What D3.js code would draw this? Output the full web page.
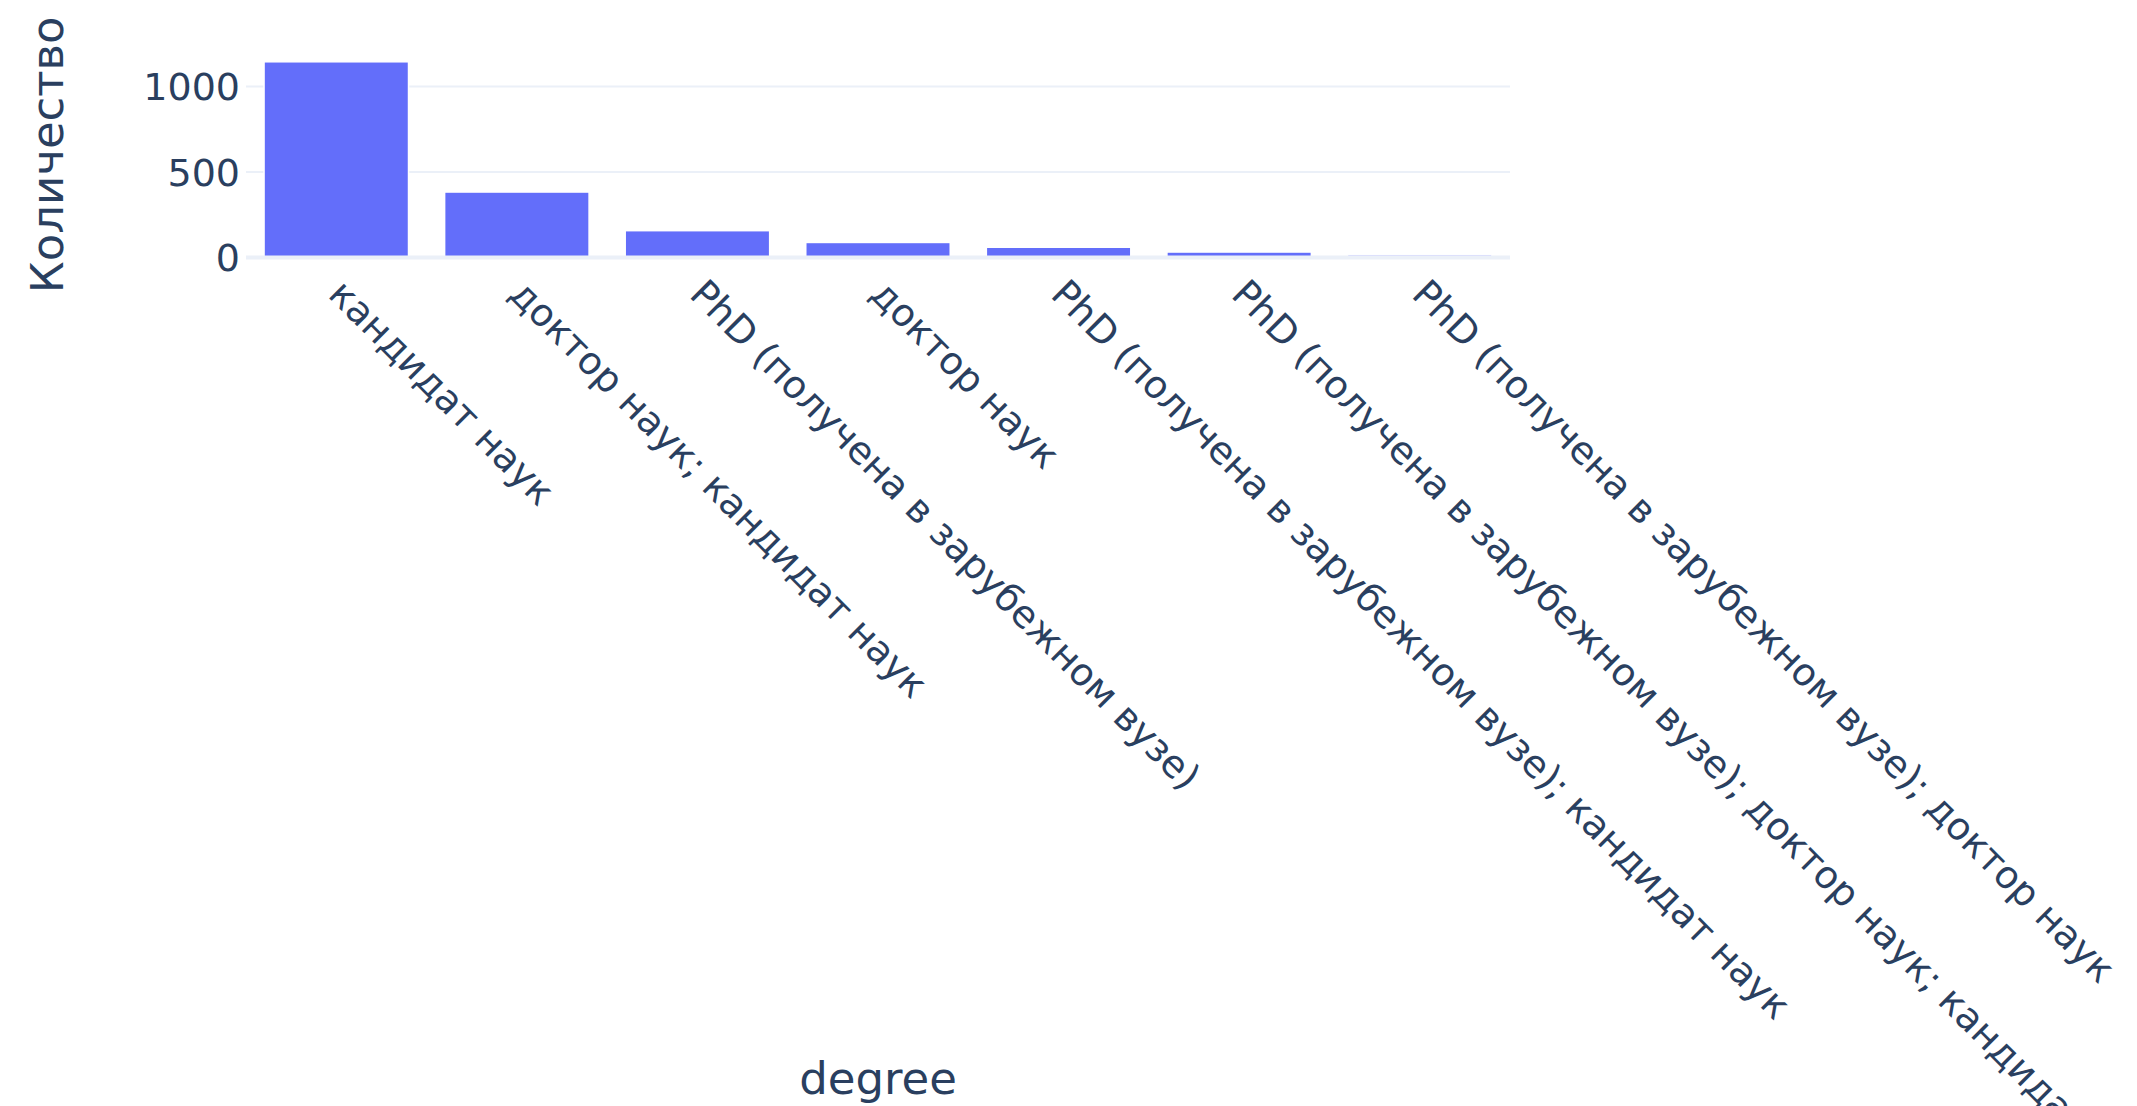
<!DOCTYPE html>
<html>
<head>
<meta charset="utf-8">
<script src="https://cdn.jsdelivr.net/npm/d3@7"></script>
<style>
html,body{margin:0;padding:0;background:#fff;overflow:hidden;}
svg{display:block;}
</style>
</head>
<body>
<script>
const categories = [
  "кандидат наук",
  "доктор наук; кандидат наук",
  "PhD (получена в зарубежном вузе)",
  "доктор наук",
  "PhD (получена в зарубежном вузе); кандидат наук",
  "PhD (получена в зарубежном вузе); доктор наук; кандидат наук",
  "PhD (получена в зарубежном вузе); доктор наук"
];
const counts = [1145, 383, 157, 88, 60, 32, 15];
const yTicks = [0, 500, 1000];
const xTitle = "degree";
const yTitle = "Количество";

const W = 2137, H = 1106;
const plot = {left: 246, right: 1510, top: 52, bottom: 257.5};
const textColor = "#2a3f5f";
const font = "'DejaVu Sans', Verdana, sans-serif";

const svg = d3.select("body").append("svg").attr("width", W).attr("height", H);
svg.append("rect").attr("width", W).attr("height", H).attr("fill", "#fff");

const x = d3.scaleBand().domain(categories).range([plot.left, plot.right])
  .paddingInner(0.2).paddingOuter(0.1);
const y = d3.scaleLinear().domain([0, d3.max(counts) * 1.05]).range([plot.bottom, plot.top]);

// grid
const grid = svg.append("g");
grid.selectAll("line").data(yTicks.filter(t => t !== 0)).join("line")
  .attr("x1", plot.left).attr("x2", plot.right)
  .attr("y1", d => y(d)).attr("y2", d => y(d))
  .attr("stroke", "#EBF0F8").attr("stroke-width", 2);

// bars
svg.append("g").selectAll("rect").data(categories).join("rect")
  .attr("x", d => x(d)).attr("width", x.bandwidth())
  .attr("y", (d, i) => y(counts[i]))
  .attr("height", (d, i) => y(0) - y(counts[i]))
  .attr("fill", "#636efa").attr("stroke", "#fff").attr("stroke-width", 1.5);

// zero line
svg.append("line").attr("x1", plot.left).attr("x2", plot.right)
  .attr("y1", y(0)).attr("y2", y(0))
  .attr("stroke", "#EBF0F8").attr("stroke-width", 4);

// y axis
const yAxis = d3.axisLeft(y).tickValues(yTicks).tickSize(0).tickPadding(6).tickFormat(d3.format("d"));
const yg = svg.append("g").attr("transform", `translate(${plot.left},0)`).call(yAxis);
yg.select(".domain").remove();
yg.selectAll("text").attr("font-family", font).attr("font-size", 38).attr("fill", textColor).attr("dy", "0.35em");

// x axis
const xAxis = d3.axisBottom(x).tickSize(0).tickPadding(0);
const xg = svg.append("g").attr("transform", `translate(0,${plot.bottom})`).call(xAxis);
xg.select(".domain").remove();
xg.selectAll(".tick text")
  .attr("font-family", font).attr("font-size", 38).attr("fill", textColor)
  .attr("text-anchor", "start").attr("x", 0).attr("y", 0).attr("dy", "0.35em")
  .attr("transform", "translate(0,29) rotate(45)");

// titles
svg.append("text").attr("x", (plot.left + plot.right) / 2).attr("y", 1094)
  .attr("text-anchor", "middle").attr("font-family", font).attr("font-size", 45)
  .attr("fill", textColor).text(xTitle);
svg.append("text").attr("transform", `translate(47,${(plot.top + plot.bottom) / 2}) rotate(-90)`)
  .attr("text-anchor", "middle").attr("dy", "0.35em").attr("font-family", font).attr("font-size", 45)
  .attr("fill", textColor).text(yTitle);
</script>
</body>
</html>
